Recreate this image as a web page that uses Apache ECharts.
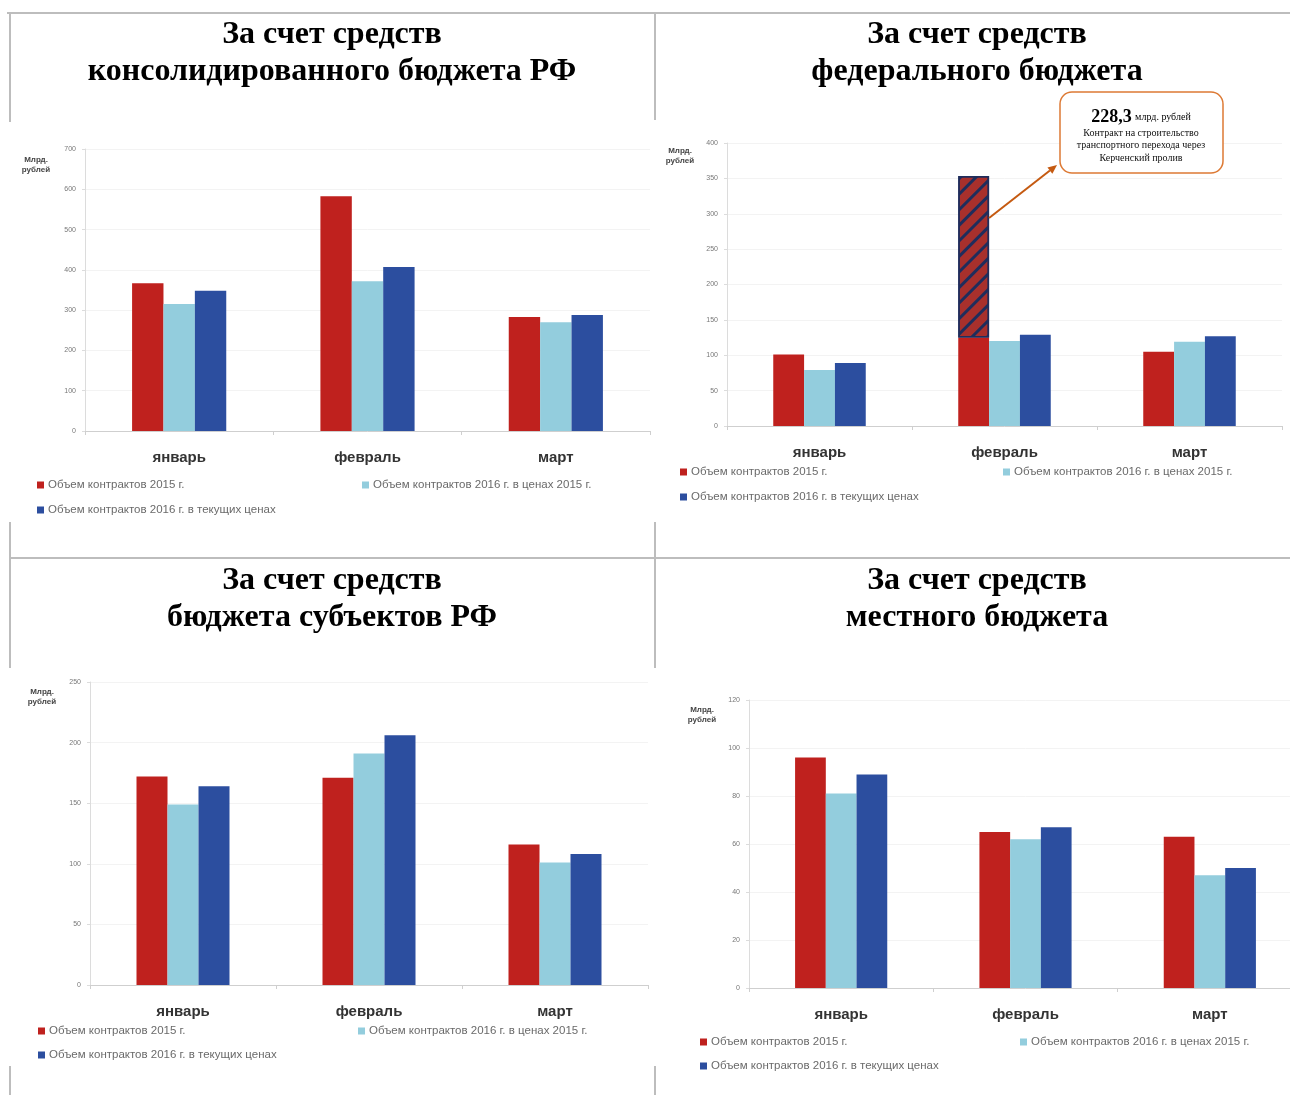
<!DOCTYPE html>
<html><head><meta charset="utf-8">
<script src="https://cdn.jsdelivr.net/npm/echarts@6/dist/echarts.min.js"></script>
<style>html,body{margin:0;padding:0;background:#fff;overflow:hidden;width:1290px;height:1095px}#c{width:1310px;height:1095px}</style>
</head><body><div id="c"></div>
<script>
const categories = ['январь', 'февраль', 'март'];
const seriesNames = ['Объем контрактов 2015 г.', 'Объем контрактов 2016 г. в ценах 2015 г.', 'Объем контрактов 2016 г. в текущих ценах'];
const titles = [
  ['За счет средств', 'консолидированного бюджета РФ'],
  ['За счет средств', 'федерального бюджета'],
  ['За счет средств', 'бюджета субъектов РФ'],
  ['За счет средств', 'местного бюджета']
];
// consolidated budget
const consRed = [367, 583, 283];
const consLight = [315, 372, 270];
const consBlue = [348, 407, 288];
// federal budget
const fedRed = [101, 125, 105];
const fedHatch = ['-', 228.3, '-'];
const fedLight = [79, 120, 119];
const fedBlue = [89, 129, 127];
// regional budgets
const subRed = [172, 171, 116];
const subLight = [149, 191, 101];
const subBlue = [164, 206, 108];
// local budgets
const locRed = [96, 65, 63];
const locLight = [81, 62, 47];
const locBlue = [89, 67, 50];
// y-axis ranges
const yMax = [700, 400, 250, 120];
const yStep = [100, 50, 50, 20];
const yName = 'Млрд.\nрублей';
const calloutValue = '228,3';
const calloutUnit = 'млрд. рублей';
const calloutLines = ['Контракт на строительство', 'транспортного перехода через', 'Керченский пролив'];

const RED = '#bf211e', LIGHT = '#93cddd', BLUE = '#2c4e9f';
const W_TOTAL = 1310;
const grids = [
  {left: 85, right: W_TOTAL - 650, top: 149, bottom: 664},
  {left: 727, right: W_TOTAL - 1282, top: 143, bottom: 669},
  {left: 90, right: W_TOTAL - 648, top: 682, bottom: 110},
  {left: 749, right: W_TOTAL - 1302, top: 700, bottom: 107}
];
const legendPos = [
  [[37, 486], [362, 486], [37, 511]],
  [[680, 473], [1003, 473], [680, 498]],
  [[38, 1032], [358, 1032], [38, 1056]],
  [[700, 1043], [1020, 1043], [700, 1067]]
];
const yNamePos = [[36, 165], [680, 156], [42, 697], [702, 715]];
const titleCenters = [[332, 35], [977, 35], [332, 581], [977, 581]];

const data = [
  [consRed, consLight, consBlue],
  [fedRed, fedLight, fedBlue],
  [subRed, subLight, subBlue],
  [locRed, locLight, locBlue]
];
const colors = [RED, LIGHT, BLUE];

const xAxis = [], yAxis = [], series = [], legend = [];
grids.forEach((g, i) => {
  xAxis.push({
    type: 'category', gridIndex: i, data: categories,
    axisLine: {lineStyle: {color: '#cfcfcf', width: 1}},
    axisTick: {show: true, length: 4, lineStyle: {color: '#cfcfcf'}},
    axisLabel: {fontFamily: 'Liberation Sans', fontWeight: 'bold', fontSize: 15, color: '#333', margin: 19}
  });
  yAxis.push({
    type: 'value', gridIndex: i, min: 0, max: yMax[i], interval: yStep[i],
    axisLine: {show: true, lineStyle: {color: '#dcdcdc'}},
    axisTick: {show: true, length: 3, lineStyle: {color: '#dcdcdc'}},
    splitLine: {lineStyle: {color: '#f3f3f3'}},
    axisLabel: {fontFamily: 'Liberation Sans', fontSize: 7, color: '#777', margin: 9}
  });
  data[i].forEach((arr, k) => {
    series.push({
      type: 'bar', name: seriesNames[k], xAxisIndex: i, yAxisIndex: i,
      data: arr, stack: k === 0 ? 'red' + i : undefined,
      barGap: '0%', barCategoryGap: '50%',
      itemStyle: {color: colors[k]}, emphasis: {disabled: true}
    });
    if (i === 1 && k === 0) {
      series.push({
        type: 'bar', name: 'Керченский пролив', xAxisIndex: i, yAxisIndex: i,
        data: fedHatch, stack: 'red' + i, barGap: '0%', barCategoryGap: '50%',
        itemStyle: {
          color: '#a8302c', borderColor: '#1f2d5c', borderWidth: 1.5,
          decal: {symbol: 'rect', symbolSize: 1, dashArrayX: [[1, 0]], dashArrayY: [3, 8], rotation: -Math.PI / 4, color: '#1f2d5c'}
        },
        emphasis: {disabled: true}
      });
    }
  });
  legendPos[i].forEach((p, k) => {
    legend.push({
      data: [seriesNames[k]], left: p[0], top: p[1] - 7, padding: 0,
      itemWidth: 7, itemHeight: 7, icon: 'rect', itemGap: 4,
      selectedMode: false,
      textStyle: {fontFamily: 'Liberation Sans', fontSize: 11.5, color: '#6a6a6a', padding: [0, 0, 0, -1]}
    });
  });
});

const lineStyle = {stroke: '#bdbdbd', lineWidth: 2};
const frame = [
  [7, 13, 1290, 13],
  [10, 13, 10, 122], [655, 13, 655, 120],
  [10, 522, 10, 558], [655, 522, 655, 558],
  [10, 558, 1290, 558],
  [10, 558, 10, 668], [655, 558, 655, 668],
  [10, 1066, 10, 1095], [655, 1066, 655, 1095]
];
const graphic = [];
frame.forEach(f => graphic.push({type: 'line', shape: {x1: f[0], y1: f[1], x2: f[2], y2: f[3]}, style: lineStyle, z: 0}));
titles.forEach((t, i) => {
  t.forEach((line, j) => graphic.push({
    type: 'text', x: titleCenters[i][0], y: titleCenters[i][1] + j * 37,
    style: {text: line, textAlign: 'center', textVerticalAlign: 'middle', font: 'bold 32px "Liberation Serif"', fill: '#000'}
  }));
});
yNamePos.forEach(p => graphic.push({
  type: 'text', x: p[0], y: p[1],
  style: {text: yName, textAlign: 'center', textVerticalAlign: 'middle', font: 'bold 8px "Liberation Sans"', fill: '#444', lineHeight: 10}
}));
// callout box
graphic.push({type: 'rect', shape: {x: 1060, y: 92, width: 163, height: 81, r: 12}, style: {fill: '#fff', stroke: '#dd7a35', lineWidth: 1.5}, z: 10});
graphic.push({type: 'text', x: 1141, y: 117, z: 11, style: {
  text: '{a|' + calloutValue + '} {b|' + calloutUnit + '}', textAlign: 'center', textVerticalAlign: 'middle',
  rich: {a: {font: 'bold 18px "Liberation Serif"', fill: '#000'}, b: {font: '10px "Liberation Serif"', fill: '#000'}}
}});
calloutLines.forEach((l, j) => graphic.push({type: 'text', x: 1141, y: 133 + j * 12.5, z: 11,
  style: {text: l, textAlign: 'center', textVerticalAlign: 'middle', font: '10px "Liberation Serif"', fill: '#111'}}));

const chart = echarts.init(document.getElementById('c'), null, {renderer: 'canvas'});
chart.setOption({
  animation: false, backgroundColor: '#fff',
  grid: grids, xAxis, yAxis, series, legend, graphic
});
// arrow from the hatched bar to the callout
const hatchIdx = series.findIndex(s => s.name === 'Керченский пролив');
const lay = chart.getModel().getSeriesByIndex(hatchIdx).getData().getItemLayout(1);
const yPix = chart.convertToPixel({gridIndex: 1}, [1, 294])[1];
const x0 = lay.x + lay.width, y0 = yPix, x1 = 1057, y1 = 165;
const ang = Math.atan2(y1 - y0, x1 - x0), L = 9, W = 4;
graphic.push({type: 'line', z: 12, shape: {x1: x0, y1: y0, x2: x1 - L * Math.cos(ang), y2: y1 - L * Math.sin(ang)}, style: {stroke: '#c55a11', lineWidth: 2}});
graphic.push({type: 'polygon', z: 12, shape: {points: [
  [x1, y1],
  [x1 - L * Math.cos(ang) + W * Math.sin(ang), y1 - L * Math.sin(ang) - W * Math.cos(ang)],
  [x1 - L * Math.cos(ang) - W * Math.sin(ang), y1 - L * Math.sin(ang) + W * Math.cos(ang)]
]}, style: {fill: '#c55a11'}});
chart.setOption({graphic});
</script></body></html>
